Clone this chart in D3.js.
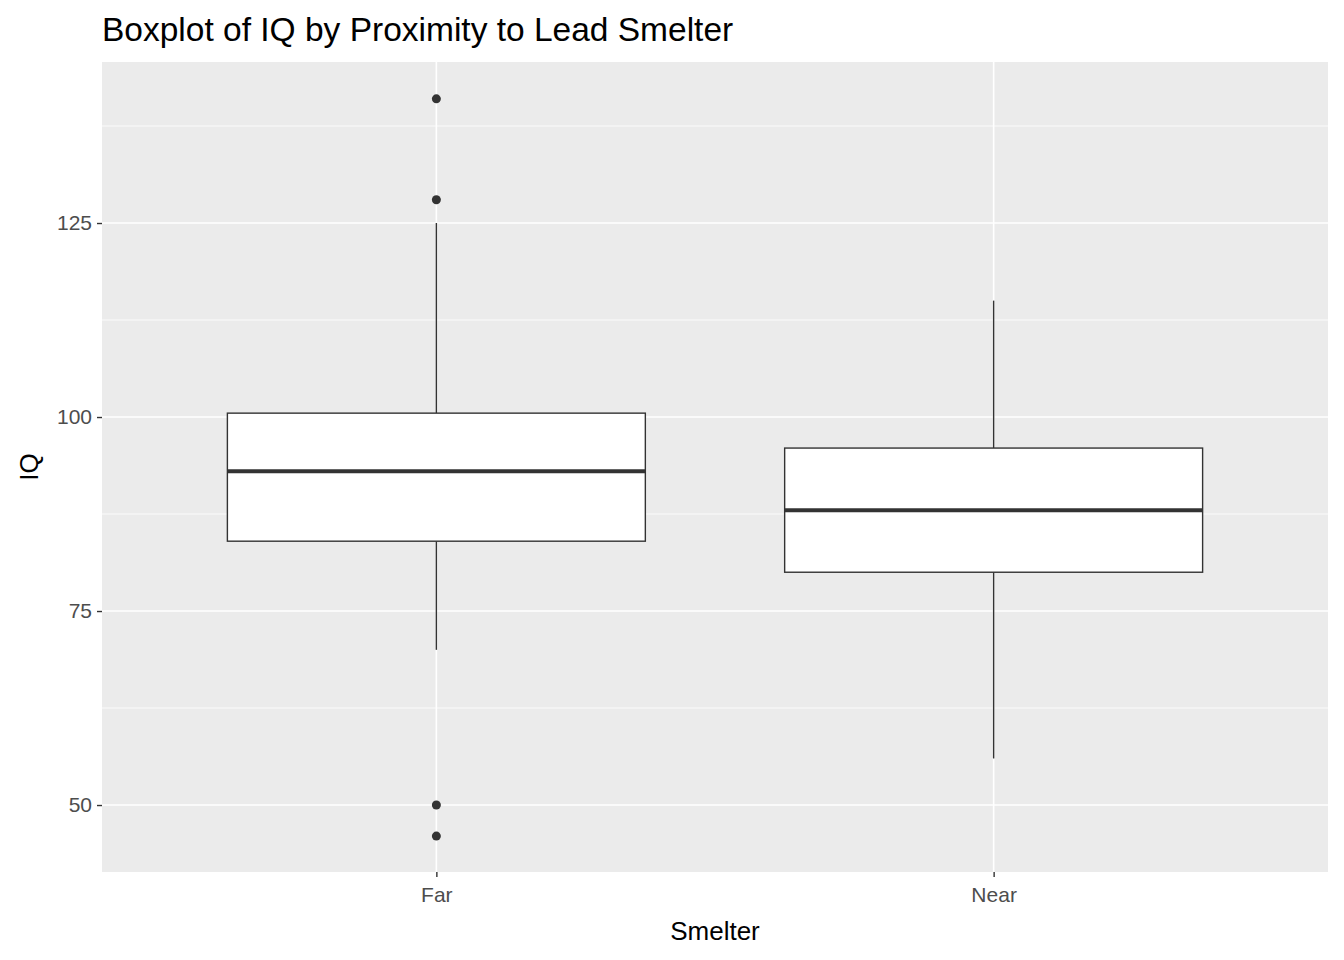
<!DOCTYPE html>
<html>
<head>
<meta charset="utf-8">
<title>Boxplot of IQ</title>
<script src="https://d3js.org/d3.v7.min.js"></script>
<style>
  body { margin: 0; background: #fff; }
  text { font-family: Arial, "Liberation Sans", sans-serif; }
</style>
</head>
<body>
<script>
// data
var groups = ["Far", "Near"];
var lowerWhisker = [70, 56];
var q1 = [84, 80];
var median = [93, 88];
var q3 = [100.5, 96];
var upperWhisker = [125, 115];
var outliers = [[141, 128, 50, 46], []];
var yTicks = [50, 75, 100, 125];

var W = 1344, H = 960;
var pLeft = 102, pRight = 1328, pTop = 62, pBottom = 872;

var svg = d3.select("body").append("svg").attr("width", W).attr("height", H);

// discrete axis: 0.6 unit padding on each side like ggplot
var x = d3.scaleLinear().domain([0.4, 2.6]).range([pLeft, pRight]);
var y = d3.scaleLinear().domain([41.37, 145.75]).range([pBottom, pTop]);
var boxW = (x(1.375) - x(1)) * 2;

svg.append("rect").attr("x", pLeft).attr("y", pTop)
  .attr("width", pRight - pLeft).attr("height", pBottom - pTop).attr("fill", "#ebebeb");

// grid
var minor = [62.5, 87.5, 112.5, 137.5];
svg.selectAll(".minor").data(minor).enter().append("line")
  .attr("x1", pLeft).attr("x2", pRight)
  .attr("y1", d => y(d)).attr("y2", d => y(d))
  .attr("stroke", "#fff").attr("stroke-width", 0.8);
svg.selectAll(".major").data(yTicks).enter().append("line")
  .attr("x1", pLeft).attr("x2", pRight)
  .attr("y1", d => y(d)).attr("y2", d => y(d))
  .attr("stroke", "#fff").attr("stroke-width", 1.6);
svg.selectAll(".vmajor").data(groups).enter().append("line")
  .attr("x1", (d, i) => x(i + 1)).attr("x2", (d, i) => x(i + 1))
  .attr("y1", pTop).attr("y2", pBottom)
  .attr("stroke", "#fff").attr("stroke-width", 1.6);

var g = svg.selectAll(".box").data(groups).enter().append("g");
g.append("line")
  .attr("x1", (d, i) => x(i + 1)).attr("x2", (d, i) => x(i + 1))
  .attr("y1", (d, i) => y(upperWhisker[i])).attr("y2", (d, i) => y(q3[i]))
  .attr("stroke", "#333").attr("stroke-width", 1.4);
g.append("line")
  .attr("x1", (d, i) => x(i + 1)).attr("x2", (d, i) => x(i + 1))
  .attr("y1", (d, i) => y(q1[i])).attr("y2", (d, i) => y(lowerWhisker[i]))
  .attr("stroke", "#333").attr("stroke-width", 1.4);
g.append("rect")
  .attr("x", (d, i) => x(i + 1) - boxW / 2).attr("width", boxW)
  .attr("y", (d, i) => y(q3[i])).attr("height", (d, i) => y(q1[i]) - y(q3[i]))
  .attr("fill", "#fff").attr("stroke", "#333").attr("stroke-width", 1.4);
g.append("line")
  .attr("x1", (d, i) => x(i + 1) - boxW / 2).attr("x2", (d, i) => x(i + 1) + boxW / 2)
  .attr("y1", (d, i) => y(median[i])).attr("y2", (d, i) => y(median[i]))
  .attr("stroke", "#333").attr("stroke-width", 4);
g.each(function(d, i) {
  d3.select(this).selectAll("circle").data(outliers[i]).enter().append("circle")
    .attr("cx", x(i + 1)).attr("cy", v => y(v)).attr("r", 4.5).attr("fill", "#333");
});

// axes
var yAxis = svg.append("g").attr("transform", "translate(" + pLeft + ",0)")
  .call(d3.axisLeft(y).tickValues(yTicks).tickSize(5).tickPadding(5));
var xAxis = svg.append("g").attr("transform", "translate(0," + pBottom + ")")
  .call(d3.axisBottom(x).tickValues([1, 2]).tickFormat((d) => groups[d - 1]).tickSize(5).tickPadding(10));
[yAxis, xAxis].forEach(a => {
  a.select(".domain").remove();
  a.selectAll(".tick line").attr("stroke", "#333").attr("stroke-width", 1.4);
  a.selectAll(".tick text").attr("fill", "#4d4d4d").style("font-size", "21px");
});

svg.append("text").attr("x", (pLeft + pRight) / 2).attr("y", 940)
  .attr("text-anchor", "middle").style("font-size", "26px").text("Smelter");
svg.append("text").attr("transform", "translate(38," + (pTop + pBottom) / 2 + ") rotate(-90)")
  .attr("text-anchor", "middle").style("font-size", "26px").text("IQ");
svg.append("text").attr("x", pLeft).attr("y", 41)
  .style("font-size", "33.5px").text("Boxplot of IQ by Proximity to Lead Smelter");
</script>
</body>
</html>
